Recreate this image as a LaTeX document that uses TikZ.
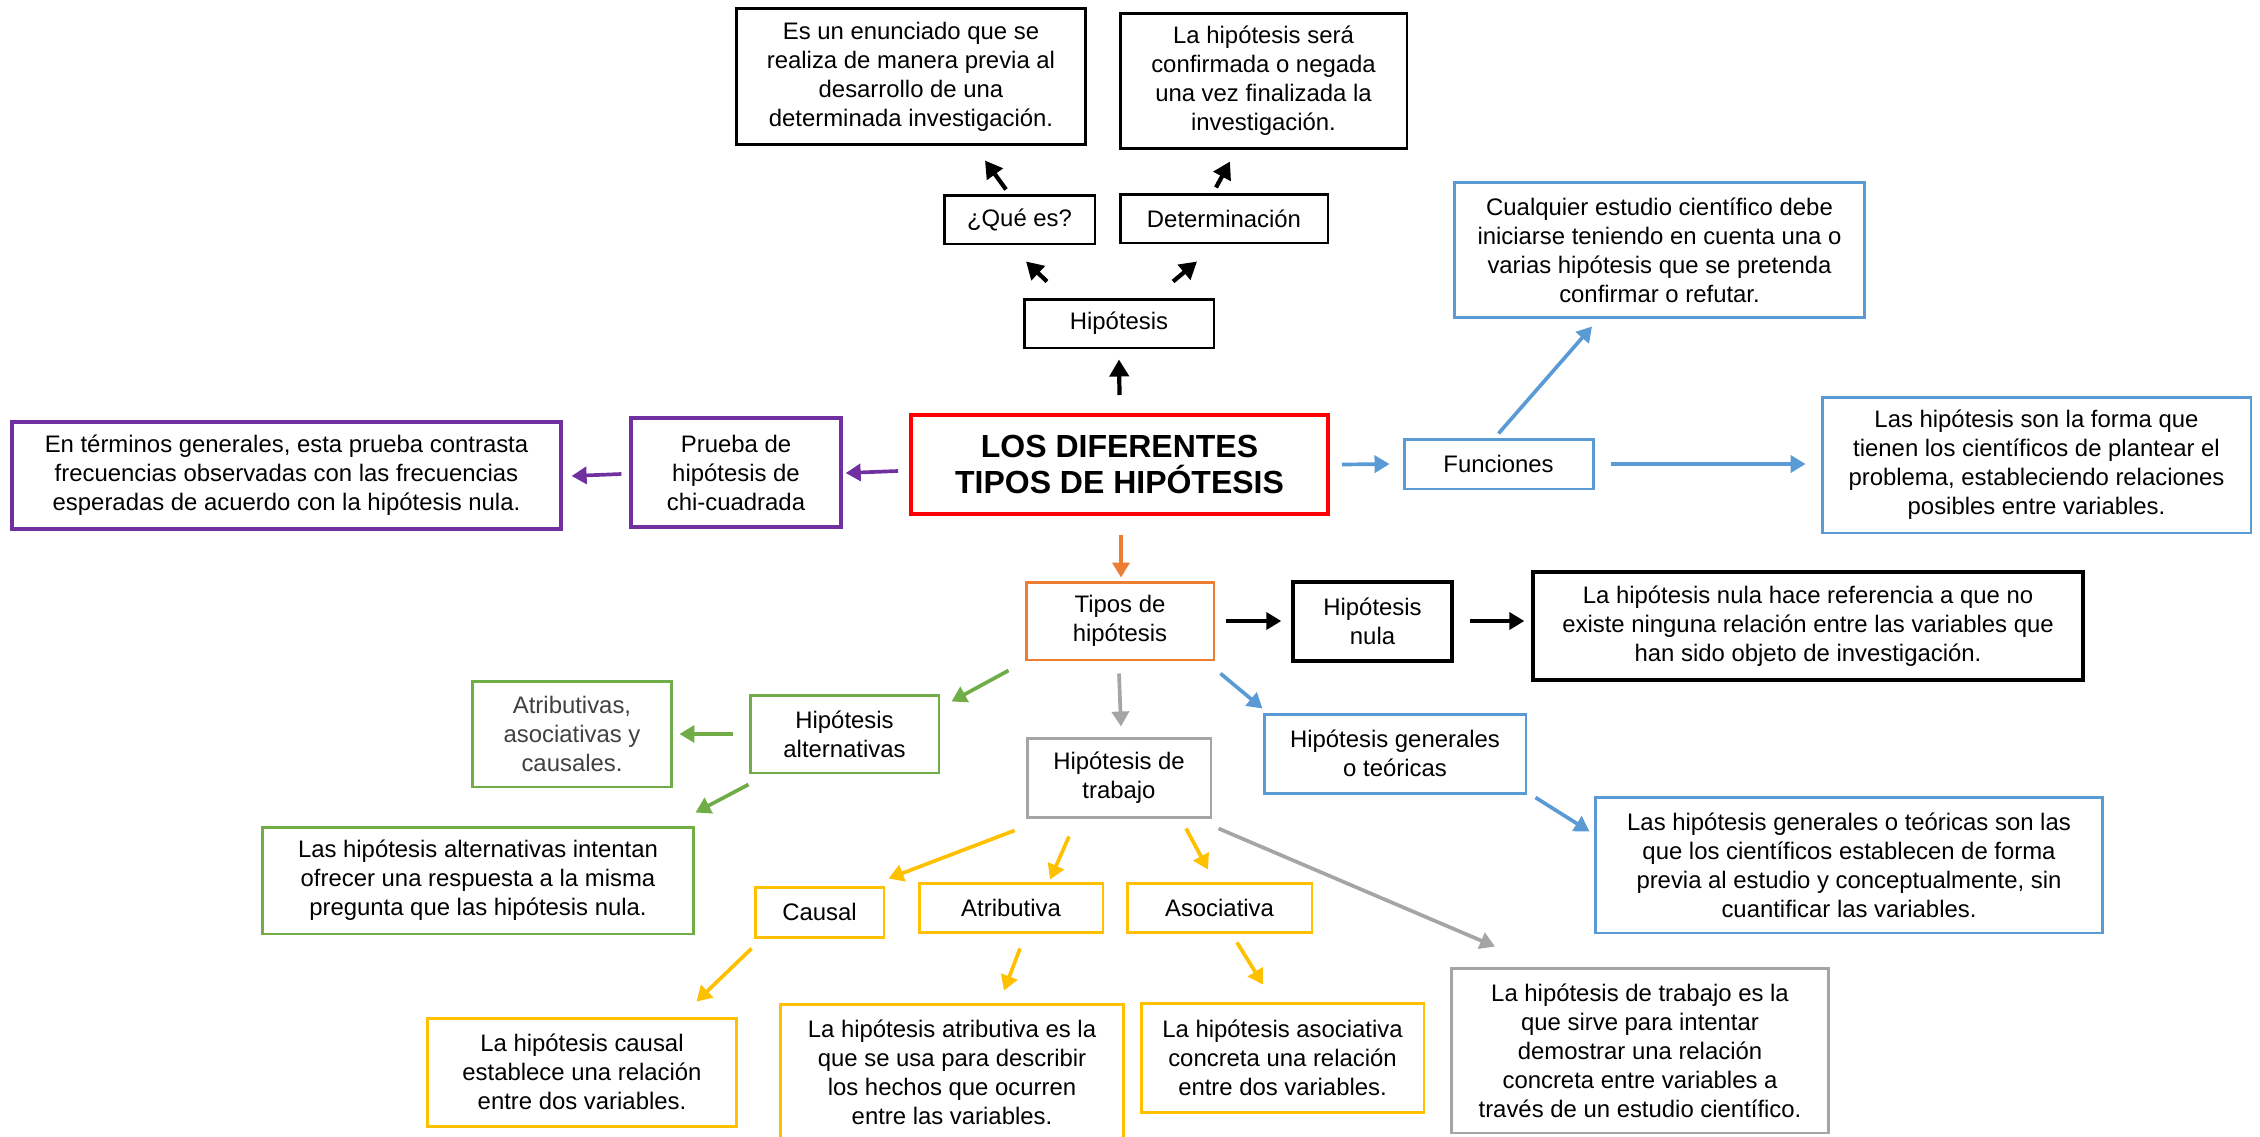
\documentclass[tikz,border=0pt]{standalone}
\usepackage{fontspec}
\setmainfont{Liberation Sans}
\usetikzlibrary{arrows.meta,calc,positioning}
\definecolor{rojo}{HTML}{FF0000}
\definecolor{morado}{HTML}{7030A0}
\definecolor{azul}{HTML}{5B9BD5}
\definecolor{naranja}{HTML}{ED7D31}
\definecolor{verde}{HTML}{70AD47}
\definecolor{gris}{HTML}{A5A5A5}
\definecolor{oro}{HTML}{FFC000}
\definecolor{textogris}{HTML}{404040}

\begin{document}
\begin{tikzpicture}
    [x=0.02cm,y=-0.02cm,
    caja/.style={rectangle,draw=#1,line width=1.7pt,inner sep=0pt,align=center,
    font=\fontsize{13.6}{16.5}\selectfont},
    dim/.style 2 args={minimum width=#1cm,minimum height=#2cm},
    cajatitulo/.style={caja=rojo,line width=2.3pt,font=\fontsize{18.2}{21}\selectfont\bfseries},
    flecha/.style={-{Triangle[length=0.3cm,width=0.34cm]},line width=2.1pt,draw=#1},
    flecha negra/.style={-{Triangle[length=0.34cm,width=0.38cm]},line width=2.4pt,draw=black},
    flecha gruesa/.style={-{Triangle[length=0.3cm,width=0.34cm]},line width=2.8pt,draw=black}]
    \path[use as bounding box,clip] (0,0) rectangle (2260,1136);

    \node[cajatitulo,dim={8.34}{1.98}] (titulo) at (1119.5,464.5) {LOS DIFERENTES\\TIPOS DE HIPÓTESIS};

    \node[caja=black,dim={3.8}{0.98}] (hipotesis) at (1119,323.5) {Hipótesis};
    \node[caja=black,dim={3.02}{0.98}] (que es) at (1019.5,219.5) {¿Qué es?};
    \node[caja=black,dim={4.16}{0.98}] (determinacion) at (1224,218.5) {Determinación};
    \node[caja=black,dim={7.0}{2.74}] (definicion) at (911,76.5) {Es un enunciado que se\\realiza de manera previa al\\desarrollo de una\\determinada investigación.};
    \node[caja=black,dim={5.74}{2.72}] (confirmacion) at (1263.5,81) {La hipótesis será\\confirmada o negada\\una vez finalizada la\\investigación.};

    \node[caja=morado,line width=1.9pt,dim={4.2}{2.18}] (prueba chi) at (736,472.5) {Prueba de\\hipótesis de\\chi-cuadrada};
    \node[caja=morado,line width=1.9pt,dim={10.98}{2.14}] (chi texto) at (286.5,475.5) {En términos generales, esta prueba contrasta\\frecuencias observadas con las frecuencias\\esperadas de acuerdo con la hipótesis nula.};

    \node[caja=azul,dim={3.78}{1.0}] (funciones) at (1498.5,464) {Funciones};
    \node[caja=azul,dim={8.22}{2.72}] (funcion estudio) at (1659.5,250) {Cualquier estudio científico debe\\iniciarse teniendo en cuenta una o\\varias hipótesis que se pretenda\\confirmar o refutar.};
    \node[caja=azul,dim={8.58}{2.72}] (funcion forma) at (2036.5,465) {Las hipótesis son la forma que\\tienen los científicos de plantear el\\problema, estableciendo relaciones\\posibles entre variables.};

    \node[caja=naranja,dim={3.76}{1.56}] (tipos) at (1120,621) {Tipos de\\hipótesis};
    \node[caja=black,line width=2pt,dim={3.18}{1.58}] (nula) at (1372.5,621.5) {Hipótesis\\nula};
    \node[caja=black,line width=2pt,dim={11.0}{2.16}] (nula texto) at (1808,626) {La hipótesis nula hace referencia a que no\\existe ninguna relación entre las variables que\\han sido objeto de investigación.};

    \node[caja=verde,dim={3.78}{1.56}] (alternativas) at (844.5,734) {Hipótesis\\alternativas};
    \node[caja=verde,text=textogris,dim={4.0}{2.12}] (alt clases) at (572,734) {Atributivas,\\asociativas y\\causales.};
    \node[caja=verde,dim={8.64}{2.14}] (alt texto) at (478,880.5) {Las hipótesis alternativas intentan\\ofrecer una respuesta a la misma\\pregunta que las hipótesis nula.};

    \node[caja=gris,dim={3.68}{1.58}] (trabajo) at (1119,777.5) {Hipótesis de\\trabajo};
    \node[caja=gris,dim={7.56}{3.3}] (trabajo texto) at (1640,1050.5) {La hipótesis de trabajo es la\\que sirve para intentar\\demostrar una relación\\concreta entre variables a\\través de un estudio científico.};

    \node[caja=azul,dim={5.24}{1.58}] (generales) at (1395,753.5) {Hipótesis generales\\o teóricas};
    \node[caja=azul,dim={10.16}{2.72}] (generales texto) at (1849,865) {Las hipótesis generales o teóricas son las\\que los científicos establecen de forma\\previa al estudio y conceptualmente, sin\\cuantificar las variables.};

    \node[caja=oro,dim={2.58}{1.0}] (causal) at (819.5,912) {Causal};
    \node[caja=oro,dim={3.68}{0.98}] (atributiva) at (1011,907.5) {Atributiva};
    \node[caja=oro,dim={3.7}{0.98}] (asociativa) at (1219.5,907.5) {Asociativa};
    \node[caja=oro,dim={6.2}{2.16}] (causal texto) at (582,1072) {La hipótesis causal\\establece una relación\\entre dos variables.};
    \node[caja=oro,dim={6.88}{2.72}] (atributiva texto) at (952,1072) {La hipótesis atributiva es la\\que se usa para describir\\los hechos que ocurren\\entre las variables.};
    \node[caja=oro,dim={5.66}{2.18}] (asociativa texto) at (1282.5,1057.5) {La hipótesis asociativa\\concreta una relación\\entre dos variables.};

    \draw[flecha negra] ($(titulo.north)+(0,-18)$) -- ($(hipotesis.south)+(0,10)$);
    \draw[flecha negra] ($(hipotesis.north)+(-72,-16)$) -- ($(que es.south)+(6.5,16)$);
    \draw[flecha negra] ($(hipotesis.north)+(54,-16)$) -- ($(determinacion.south)+(-27,17)$);
    \draw[flecha negra] ($(que es.north)+(-13.5,-4)$) -- ($(definicion.south)+(74,14)$);
    \draw[flecha negra] ($(determinacion.north)+(-8,-5)$) -- ($(confirmacion.south)+(-33.5,11)$);

    \draw[flecha=morado] ($(titulo.west)+(-11,6.5)$) -- ($(prueba chi.east)+(3,0.5)$);
    \draw[flecha=morado] ($(prueba chi.west)+(-8,1.5)$) -- ($(chi texto.east)+(9,0.5)$);

    \draw[flecha=azul] ($(titulo.east)+(12,0)$) -- ($(funciones.west)+(-13,0)$);
    \draw[flecha=azul] ($(funciones.north)+(0,-4)$) -- ($(funcion estudio.south)+(-67.5,7)$);
    \draw[flecha=azul] ($(funciones.east)+(16,0)$) -- ($(funcion forma.west)+(-15,-1)$);

    \draw[flecha=naranja] ($(titulo.south)+(1.5,19)$) -- ($(tipos.north)+(1,-3)$);
    \draw[flecha gruesa] ($(tipos.east)+(11,0)$) -- ($(nula.west)+(-10,-0.5)$);
    \draw[flecha gruesa] ($(nula.east)+(16,-0.5)$) -- ($(nula texto.west)+(-7,-5)$);

    \draw[flecha=gris] ($(tipos.south)+(-1,12)$) -- ($(trabajo.north)+(2,-10)$);
    \draw[flecha=azul] ($(tipos.south east)+(5,12)$) -- ($(generales.north west)+(0,-4)$);
    \draw[flecha=azul] ($(generales.south east)+(8,3)$) -- ($(generales texto.north west)+(-4,36)$);
    \draw[flecha=verde] ($(tipos.south west)+(-16,9)$) -- ($(alternativas.north east)+(11,8)$);
    \draw[flecha=verde] ($(alternativas.west)+(-16,0)$) -- ($(alt clases.east)+(6,0)$);
    \draw[flecha=verde] ($(alternativas.south west)+(0,10)$) -- ($(alt texto.north east)+(0,-13)$);

    \draw[flecha=oro] ($(trabajo.south west)+(-11,12)$) -- ($(causal.north east)+(3,-7)$);
    \draw[flecha=oro] ($(trabajo.south)+(-50,18)$) -- ($(atributiva.north)+(39,-2)$);
    \draw[flecha=oro] ($(trabajo.south)+(67,10)$) -- ($(asociativa.north)+(-11.5,-12)$);
    \draw[flecha=gris] ($(trabajo.south east)+(6,10)$) -- ($(trabajo texto.north)+(-145,-20)$);
    \draw[flecha=oro] ($(causal.south west)+(-2,10)$) -- ($(causal texto.north east)+(-42,-15)$);
    \draw[flecha=oro] ($(atributiva.south)+(9,15)$) -- ($(atributiva texto.north)+(52,-12)$);
    \draw[flecha=oro] ($(asociativa.south)+(17.5,9)$) -- ($(asociativa texto.north)+(-19.5,-17)$);
\end{tikzpicture}
\end{document}
